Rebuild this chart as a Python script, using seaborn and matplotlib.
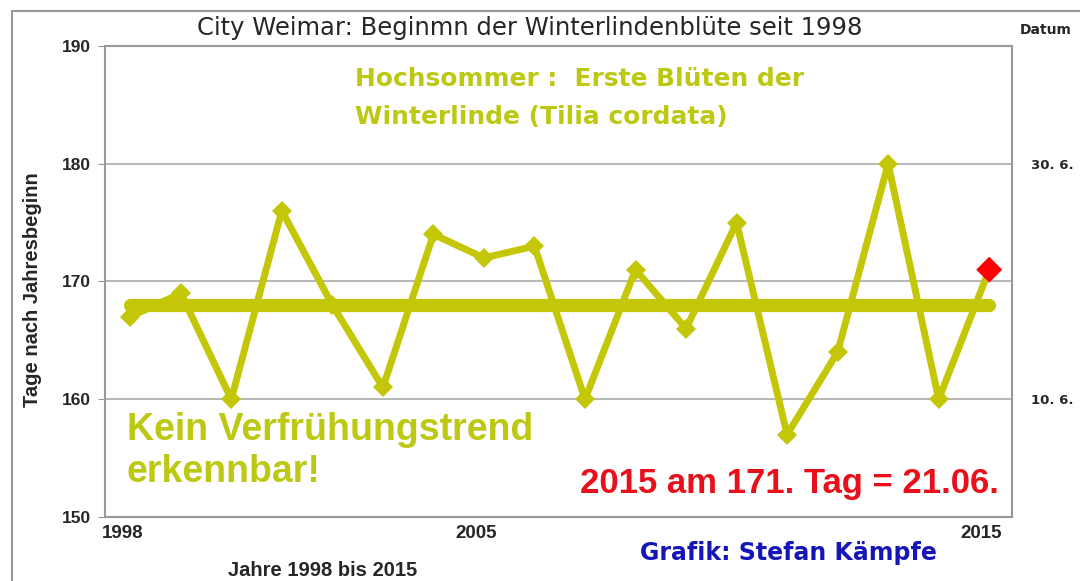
import matplotlib
matplotlib.use("Agg")
import matplotlib.pyplot as plt
import matplotlib.transforms as mtransforms
import seaborn as sns
import pandas as pd
from matplotlib.patches import Rectangle

# Blühbeginn Winterlinde, Tag nach Jahresbeginn
years = list(range(1998, 2016))
days = [167, 169, 160, 176, 168, 161, 174, 172, 173,
        160, 171, 166, 175, 157, 164, 180, 160, 171]
trend_years = [1998, 2015]
trend_days = [168.0, 168.0]
highlight_year = [2015]
highlight_day = [171]

x_ticks = [1998, 2005, 2015]
y_ticks = [150, 160, 170, 180, 190]
date_ticks = [160, 180]
date_labels = ["10. 6.", "30. 6."]

olive = "#C4C708"
olive_text = "#BDC812"

sns.set_style("white")
plt.rcParams["font.family"] = ["Liberation Sans", "DejaVu Sans"]

df = pd.DataFrame({"Jahr": years, "Tag": days})

fig = plt.figure(figsize=(10.8, 5.81), dpi=100)
ax = fig.add_axes([0.0972, 0.1102, 0.8398, 0.8107])

sns.lineplot(data=df, x="Jahr", y="Tag", ax=ax, color=olive, linewidth=5,
             marker="D", markersize=10.5, markeredgewidth=0, zorder=3)
sns.lineplot(x=trend_years, y=trend_days, ax=ax, color=olive, linewidth=9.5,
             solid_capstyle="round", zorder=4)
sns.scatterplot(x=highlight_year, y=highlight_day, ax=ax, marker="D", s=175,
                color="#FF0000", edgecolor="none", zorder=5)

ax.set_xlim(1997.5, 2015.45)
ax.set_ylim(150, 190)
ax.set_yticks(y_ticks)
ax.set_xticks(x_ticks)
ax.set_xticklabels([str(t) for t in x_ticks], fontweight="bold", fontsize=13.5)
ax.set_yticklabels([str(t) for t in y_ticks], fontweight="bold", fontsize=12.5)
ax.tick_params(axis="y", direction="out", length=5, color="#999999", pad=5)
ax.tick_params(axis="x", length=0, pad=6)
shift = mtransforms.ScaledTranslation(-8 / 100, 0, fig.dpi_scale_trans)
for lab in ax.get_xticklabels():
    lab.set_transform(lab.get_transform() + shift)
ax.set_xlabel("")
ax.set_ylabel("")
ax.yaxis.grid(True, color="#AAAAAA", linewidth=1.2)
for s in ax.spines.values():
    s.set_color("#999999")
    s.set_linewidth(1.5)

ax2 = ax.twinx()
ax2.set_ylim(150, 190)
ax2.set_yticks(date_ticks)
ax2.set_yticklabels(date_labels, family="DejaVu Sans", fontweight="bold",
                    fontsize=9.5)
ax2.tick_params(axis="y", length=0, pad=14)
for s in ax2.spines.values():
    s.set_visible(False)

def px(x, y):
    return x / 1080, 1 - y / 581

fig.text(*px(530, 28), "City Weimar: Beginmn der Winterlindenblüte seit 1998",
         ha="center", va="center", family="DejaVu Sans", fontsize=17.5)
fig.text(*px(1046, 30), "Datum", ha="center", va="center",
         family="DejaVu Sans", fontweight="bold", fontsize=10)
fig.text(*px(33, 290), "Tage nach Jahresbeginn", ha="center", va="center",
         rotation=90, fontweight="bold", fontsize=14.5)
fig.text(*px(355, 79), "Hochsommer :  Erste Blüten der", ha="left",
         va="center", family="DejaVu Sans", fontweight="bold", fontsize=17.9,
         color=olive_text)
fig.text(*px(355, 117), "Winterlinde (Tilia cordata)", ha="left",
         va="center", family="DejaVu Sans", fontweight="bold", fontsize=17.9,
         color=olive_text)
fig.text(*px(127, 430), "Kein Verfrühungstrend", ha="left", va="center",
         fontweight="bold", fontsize=27, color=olive_text)
fig.text(*px(127, 472), "erkennbar!", ha="left", va="center",
         fontweight="bold", fontsize=27, color=olive_text)
fig.text(*px(580, 484), "2015 am 171. Tag = 21.06.", ha="left", va="center",
         fontweight="bold", fontsize=25, color="#E8101A")
fig.text(*px(640, 553), "Grafik: Stefan Kämpfe", ha="left", va="center",
         family="DejaVu Sans", fontweight="bold", fontsize=17,
         color="#1515B8")
fig.text(*px(228, 571), "Jahre 1998 bis 2015", ha="left", va="center",
         fontweight="bold", fontsize=14.5)

fig.patches.append(Rectangle((12 / 1080, -0.1), 1.2, 1 - 11 / 581 + 0.1,
                             transform=fig.transFigure, fill=False,
                             edgecolor="#999999", linewidth=1.5))

fig.savefig("out.png", dpi=100)
